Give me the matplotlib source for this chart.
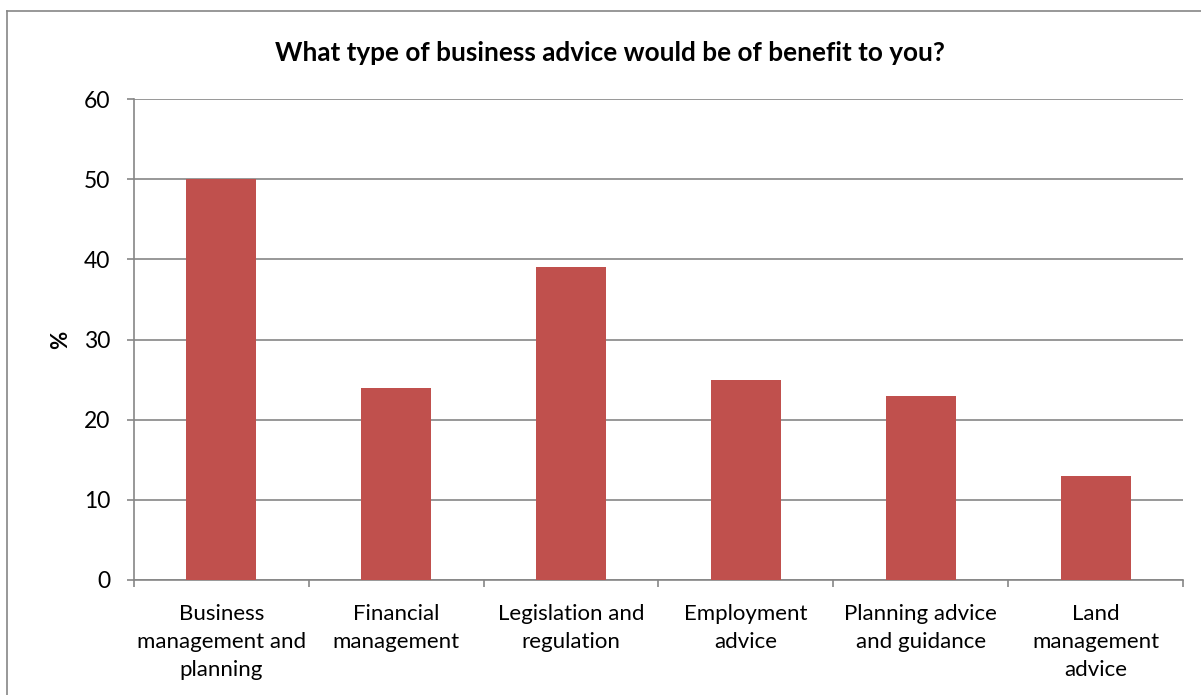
import matplotlib
matplotlib.use("Agg")
import matplotlib.pyplot as plt
from matplotlib.lines import Line2D
import numpy as np

categories = ["Business\nmanagement and\nplanning", "Financial\nmanagement",
              "Legislation and\nregulation", "Employment\nadvice",
              "Planning advice\nand guidance", "Land\nmanagement\nadvice"]
values = [50, 24, 39, 25, 23, 13]
yticks = [0, 10, 20, 30, 40, 50, 60]

plt.rcParams['font.family'] = ['Lato', 'DejaVu Sans']

W, H = 1201, 695
fig = plt.figure(figsize=(W / 100, H / 100), dpi=100)
ax = fig.add_axes([134 / W, (H - 580) / H, (1183 - 134) / W, (580 - 99) / H])

grid_c = "#868686"
x = np.arange(len(categories))
ax.bar(x, values, width=0.4, color="#C0504D", zorder=3)
ax.set_xlim(-0.5, len(categories) - 0.5)
ax.set_ylim(0, 60)
ax.set_yticks(yticks)
ax.yaxis.grid(True, color=grid_c, linewidth=1.2, zorder=0)
ax.set_xticks(x)
ax.set_xticklabels(categories, fontsize=16, linespacing=1.52)
ax.set_xticks(np.arange(len(categories) + 1) - 0.5, minor=True)
ax.tick_params(axis='x', which='major', length=0, pad=17)
ax.tick_params(axis='x', which='minor', length=5, color=grid_c, width=1.2)
ax.tick_params(axis='y', length=5, color=grid_c, width=1.2, labelsize=16.5, pad=12)
for s in ['top', 'right']:
    ax.spines[s].set_visible(False)
for s in ['left', 'bottom']:
    ax.spines[s].set_color(grid_c)
    ax.spines[s].set_linewidth(1.2)
ax.set_ylabel("%", fontsize=16, fontweight='bold', labelpad=9)

fig.text(0.5 * (275 + 945) / W, 1 - 53 / H, "What type of business advice would be of benefit to you?",
         ha='center', va='center', fontsize=18.8, fontweight='bold')

fig.add_artist(Line2D([7 / W, 7 / W], [0, 1 - 11 / H], color=grid_c, linewidth=1.2, transform=fig.transFigure))
fig.add_artist(Line2D([7 / W, 1], [1 - 11 / H, 1 - 11 / H], color=grid_c, linewidth=1.2, transform=fig.transFigure))

fig.savefig("out.png", dpi=100)
